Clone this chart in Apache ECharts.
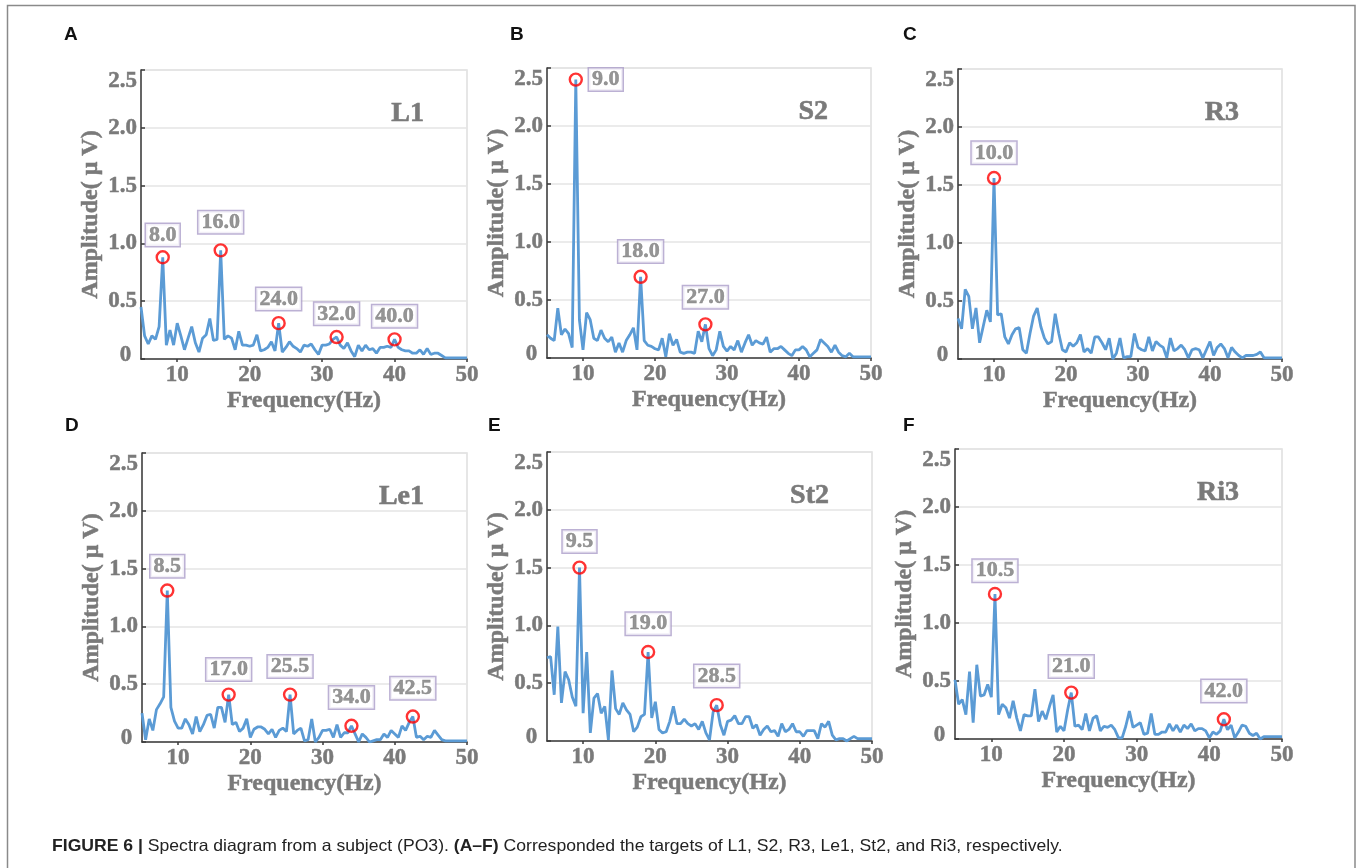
<!DOCTYPE html>
<html><head><meta charset="utf-8">
<script src="https://cdn.jsdelivr.net/npm/echarts@6/dist/echarts.min.js"></script>
<style>html,body{margin:0;padding:0;background:#fff}#c{width:1357px;height:868px}</style>
</head><body><div id="c"></div>
<script>
// Frequency bins (Hz)
const freqs = [5,5.5,6,6.5,7,7.5,8,8.5,9,9.5,10,10.5,11,11.5,12,12.5,13,13.5,14,14.5,15,15.5,16,16.5,17,17.5,18,18.5,19,19.5,20,20.5,21,21.5,22,22.5,23,23.5,24,24.5,25,25.5,26,26.5,27,27.5,28,28.5,29,29.5,30,30.5,31,31.5,32,32.5,33,33.5,34,34.5,35,35.5,36,36.5,37,37.5,38,38.5,39,39.5,40,40.5,41,41.5,42,42.5,43,43.5,44,44.5,45,45.5,46,46.5,47,47.5,48,48.5,49,49.5,50];

// Amplitudes (uV) per target
const ampL1 = [0.45,0.2,0.13,0.2,0.17,0.28,0.88,0.12,0.25,0.12,
  0.31,0.2,0.08,0.18,0.28,0.14,0.06,0.18,0.21,0.35,
  0.16,0.17,0.94,0.17,0.2,0.18,0.08,0.24,0.12,0.12,
  0.11,0.12,0.21,0.07,0.08,0.1,0.15,0.07,0.31,0.06,
  0.1,0.15,0.11,0.09,0.06,0.12,0.11,0.13,0.08,0.04,
  0.12,0.12,0.13,0.17,0.19,0.12,0.09,0.14,0.07,0.02,
  0.12,0.07,0.12,0.08,0.09,0.05,0.1,0.1,0.11,0.1,
  0.17,0.1,0.08,0.07,0.07,0.05,0.05,0.08,0.04,0.09,
  0.04,0.05,0.05,0.03,0.01,0.01,0.01,0.01,0.01,0.01,
  0.01];
const ampS2 = [0.2,0.17,0.15,0.43,0.2,0.25,0.21,0.09,2.4,0.33,
  0.07,0.39,0.33,0.17,0.15,0.24,0.17,0.14,0.18,0.05,
  0.13,0.05,0.15,0.2,0.26,0.07,0.7,0.15,0.11,0.1,
  0.08,0.07,0.17,0.01,0.21,0.11,0.16,0.05,0.04,0.05,
  0.05,0.04,0.23,0.14,0.29,0.08,0.02,0.07,0.23,0.1,
  0.06,0.1,0.07,0.15,0.05,0.13,0.2,0.11,0.15,0.13,
  0.12,0.18,0.05,0.08,0.08,0.1,0.07,0.04,0.02,0.07,
  0.07,0.1,0.07,0.01,0.04,0.07,0.16,0.13,0.1,0.05,
  0.11,0.05,0.02,0.01,0.04,0.01,0.01,0.01,0.01,0.01,
  0.01];
const ampR3 = [0.35,0.26,0.6,0.54,0.26,0.44,0.14,0.28,0.42,0.32,
  1.56,0.38,0.39,0.19,0.13,0.21,0.26,0.27,0.08,0.05,
  0.22,0.37,0.44,0.28,0.18,0.13,0.15,0.39,0.22,0.08,
  0.06,0.14,0.11,0.14,0.21,0.06,0.09,0.05,0.19,0.19,
  0.14,0.08,0.18,0.0,0.05,0.18,0.01,0.02,0.02,0.22,
  0.1,0.08,0.07,0.19,0.07,0.15,0.12,0.1,0.01,0.18,
  0.07,0.09,0.12,0.08,0.01,0.08,0.09,0.08,0.01,0.08,
  0.15,0.03,0.1,0.13,0.09,0.01,0.1,0.06,0.03,0.01,
  0.03,0.03,0.03,0.04,0.06,0.01,0.01,0.01,0.01,0.01,
  0.01];
const ampLe1 = [0.25,0.02,0.2,0.1,0.28,0.33,0.39,1.31,0.3,0.18,
  0.12,0.12,0.2,0.15,0.07,0.22,0.09,0.15,0.23,0.24,
  0.12,0.3,0.3,0.17,0.41,0.15,0.17,0.09,0.12,0.2,
  0.04,0.11,0.13,0.13,0.11,0.07,0.11,0.04,0.1,0.12,
  0.09,0.41,0.07,0.1,0.12,0.01,0.02,0.2,0.0,0.04,
  0.1,0.1,0.11,0.04,0.15,0.04,0.08,0.08,0.14,0.07,
  0.0,0.07,0.04,0.0,0.01,0.02,0.02,0.07,0.04,0.1,
  0.07,0.04,0.14,0.1,0.17,0.22,0.04,0.05,0.02,0.05,
  0.04,0.1,0.06,0.02,0.01,0.01,0.01,0.01,0.01,0.01,
  0.01];
const ampSt2 = [0.72,0.73,0.4,0.99,0.33,0.6,0.53,0.38,0.3,1.5,
  0.24,0.77,0.07,0.37,0.41,0.24,0.3,0.01,0.61,0.28,
  0.23,0.33,0.27,0.23,0.08,0.12,0.21,0.23,0.77,0.2,
  0.34,0.1,0.07,0.08,0.17,0.3,0.15,0.15,0.19,0.15,
  0.13,0.15,0.1,0.17,0.07,0.01,0.25,0.31,0.14,0.05,
  0.17,0.18,0.22,0.15,0.15,0.21,0.21,0.11,0.14,0.05,
  0.1,0.13,0.08,0.09,0.04,0.15,0.08,0.1,0.15,0.08,
  0.08,0.04,0.09,0.09,0.09,0.02,0.15,0.12,0.17,0.05,
  0.01,0.02,0.02,0.0,0.02,0.04,0.02,0.02,0.02,0.02,
  0.02];
const ampRi3 = [0.51,0.3,0.34,0.21,0.58,0.14,0.64,0.37,0.38,0.47,
  0.36,1.25,0.21,0.3,0.27,0.18,0.33,0.18,0.07,0.21,
  0.2,0.2,0.43,0.15,0.24,0.17,0.28,0.38,0.06,0.11,
  0.07,0.25,0.4,0.11,0.12,0.08,0.22,0.07,0.18,0.2,
  0.07,0.11,0.1,0.12,0.08,0.01,0.01,0.11,0.24,0.1,
  0.12,0.14,0.04,0.05,0.22,0.04,0.04,0.06,0.06,0.13,
  0.07,0.12,0.06,0.12,0.09,0.13,0.07,0.09,0.09,0.07,
  0.01,0.06,0.04,0.07,0.17,0.08,0.12,0.01,0.06,0.12,
  0.11,0.05,0.03,0.05,0.0,0.02,0.02,0.02,0.02,0.02,
  0.02];

// Marked peaks [frequency, amplitude]
const peaksL1 = [[8,0.88],[16,0.94],[24,0.31],[32,0.19],[40,0.17]];
const peaksS2 = [[9,2.4],[18,0.7],[27,0.29]];
const peaksR3 = [[10,1.56]];
const peaksLe1 = [[8.5,1.31],[17,0.41],[25.5,0.41],[34,0.14],[42.5,0.22]];
const peaksSt2 = [[9.5,1.5],[19,0.77],[28.5,0.31]];
const peaksRi3 = [[10.5,1.25],[21,0.4],[42,0.17]];

// Tick labels
const xTicks = [10,20,30,40,50];
const targets = ['L1','S2','R3','Le1','St2','Ri3'];
const letters = ['A','B','C','D','E','F'];

// ---- layout / style ----
const panels = [
  {amp: ampL1, peaks: peaksL1, pos: ['top','top','top','top','top'], dist:[4,10,6,5,5], grid:{left:141,top:70,width:326,height:289}, letter:[64,34.5]},
  {amp: ampS2, peaks: peaksS2, pos: ['right','top','top'], dist:[6,7,9], grid:{left:547,top:68,width:324,height:290}, letter:[510,34.5]},
  {amp: ampR3, peaks: peaksR3, pos: ['top'], dist:[7], grid:{left:958,top:69,width:324,height:290}, letter:[903,34.5]},
  {amp: ampLe1, peaks: peaksLe1, pos: ['top','top','top','top','top'], dist:[6,7,10,10,10], grid:{left:142,top:453,width:325,height:289}, letter:[65,425.5]},
  {amp: ampSt2, peaks: peaksSt2, pos: ['top','top','top'], dist:[8,10,11], grid:{left:547,top:452,width:325,height:289}, letter:[488,425.5]},
  {amp: ampRi3, peaks: peaksRi3, pos: ['top','top','top'], dist:[5,8,10], grid:{left:955,top:449,width:327,height:290}, letter:[903,425.5]}
];
const SERIF = "'Liberation Serif','Times New Roman',serif";
const SANS = "'Liberation Sans',Arial,sans-serif";
const GRAY = '#7a7a7a';
const AXIS = '#3a3a3a';
const heavy = {textBorderColor: GRAY, textBorderWidth: 0.5};

const grids = [], xAxes = [], yAxes = [], series = [], graphics = [];
panels.forEach((p, i) => {
  grids.push(Object.assign({show:true, borderColor:'#dedede', borderWidth:1.5, containLabel:false, outerBoundsMode:'none'}, p.grid));
  xAxes.push({
    gridIndex:i, type:'value', min:5, max:50,
    name:'Frequency(Hz)', nameLocation:'middle', nameGap:28,
    nameTextStyle:Object.assign({fontFamily:SERIF, fontWeight:'bold', fontSize:24, color:GRAY}, heavy),
    axisLine:{show:true, onZero:false, lineStyle:{color:AXIS, width:1.5}},
    axisTick:{show:true, inside:false, length:3, customValues:xTicks, lineStyle:{color:AXIS, width:1.5}},
    axisLabel:Object.assign({customValues:xTicks, margin:5, fontFamily:SERIF, fontWeight:'bold', fontSize:23, color:GRAY}, heavy),
    splitLine:{show:false}
  });
  yAxes.push({
    gridIndex:i, type:'value', min:0, max:2.5, interval:0.5,
    name:'Amplitude( μ V)', nameLocation:'middle', nameGap:38,
    nameTextStyle:Object.assign({fontFamily:SERIF, fontWeight:'bold', fontSize:24, color:GRAY}, heavy),
    axisLine:{show:true, onZero:false, lineStyle:{color:AXIS, width:1.5}},
    axisTick:{show:true, inside:true, length:4, lineStyle:{color:AXIS, width:1.5}},
    axisLabel:Object.assign({margin:4, fontFamily:SERIF, fontWeight:'bold', fontSize:23, color:GRAY,
      formatter: v => v === 0 ? '{z|0 }' : v.toFixed(1),
      rich:{z:Object.assign({fontFamily:SERIF, fontWeight:'bold', fontSize:23, color:GRAY, padding:[0,0,8,0]}, heavy)},
      verticalAlignMaxLabel:'top'}, heavy),
    splitLine:{show:true, lineStyle:{color:'#e4e4e4', width:1.5}}
  });
  series.push({
    type:'line', xAxisIndex:i, yAxisIndex:i, z:2, silent:true,
    data: freqs.map((f, k) => [f, p.amp[k]]),
    symbol:'none', showSymbol:false,
    lineStyle:{color:'#5b9bd5', width:2.8}
  });
  series.push({
    type:'scatter', xAxisIndex:i, yAxisIndex:i, z:3, silent:true,
    symbol:'circle', symbolSize:12,
    itemStyle:{color:'rgba(0,0,0,0)', borderColor:'#ff0000', borderWidth:2.4},
    data: p.peaks.map((pk, k) => ({value:pk, label:{position:p.pos[k], distance:p.dist[k]}})),
    label:Object.assign({show:true,
      formatter: q => q.value[0].toFixed(1),
      fontFamily:SERIF, fontWeight:'bold', fontSize:22, lineHeight:20, color:GRAY,
      backgroundColor:'#fff', borderColor:'#ab9ec9', borderWidth:1.5, padding:[1,3,1,3]}, heavy)
  });
  graphics.push({type:'text', z:10, style:{
    text: targets[i], x: p.grid.left + p.grid.width - 43, y: p.grid.top + 43.5,
    align:'right', verticalAlign:'middle',
    font:"bold 28px " + SERIF, fill:GRAY, stroke:GRAY, lineWidth:0.6}});
  graphics.push({type:'text', z:10, style:{
    text: letters[i], x: p.letter[0], y: p.letter[1], align:'left', verticalAlign:'middle',
    font:"bold 19px " + SANS, fill:'#111'}});
});
graphics.push({type:'rect', z:0, shape:{x:7.5, y:5.5, width:1347.5, height:900},
  style:{fill:'none', stroke:'#8a8a8a', lineWidth:1.5}});
graphics.push({type:'text', z:10, x:52, y:846, scaleX:1.066, style:{
  x:0, y:0, verticalAlign:'middle', align:'left',
  text:'{b|FIGURE 6 |} Spectra diagram from a subject (PO3). {b|(A–F)} Corresponded the targets of L1, S2, R3, Le1, St2, and Ri3, respectively.',
  font:"16.5px " + SANS, fill:'#222',
  rich:{b:{fontWeight:'bold', fontSize:16.5, fontFamily:SANS, fill:'#222'}}}});

const chart = echarts.init(document.getElementById('c'), null, {renderer:'canvas'});
chart.setOption({
  animation:false, backgroundColor:'#fff',
  grid:grids, xAxis:xAxes, yAxis:yAxes, series:series, graphic:graphics
});
</script></body></html>
